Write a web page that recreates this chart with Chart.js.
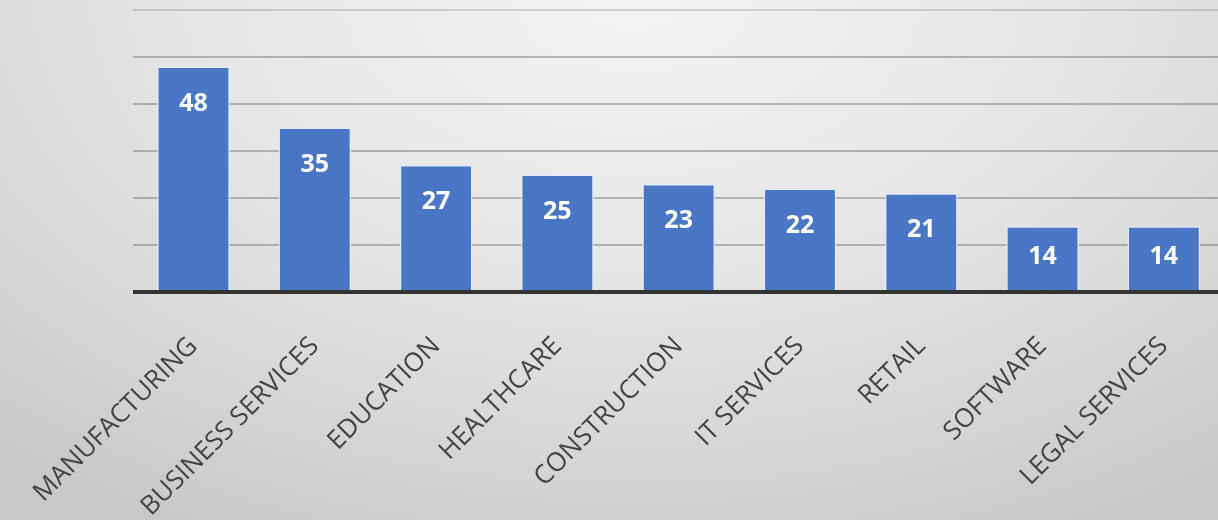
<!DOCTYPE html>
<html>
<head>
<meta charset="utf-8">
<script src="https://cdn.jsdelivr.net/npm/chart.js@4.4.1/dist/chart.umd.min.js"></script>
<style>
  html, body { margin: 0; padding: 0; overflow: hidden; }
  body {
    width: 1218px; height: 520px;
    background: radial-gradient(ellipse 80% 115% at 52% 0%, #f3f3f3 0%, #e6e6e6 45%, #d4d4d4 80%, #c8c8c8 100%);
  }
  #wrap { position: absolute; left: 0; top: 0; width: 1240px; height: 520px; }
</style>
</head>
<body>
<div id="wrap"><canvas id="chart"></canvas></div>
<script>
// Companies per industry
const categories = ['MANUFACTURING', 'BUSINESS SERVICES', 'EDUCATION', 'HEALTHCARE', 'CONSTRUCTION',
                    'IT SERVICES', 'RETAIL', 'SOFTWARE', 'LEGAL SERVICES'];
const counts = [48, 35, 27, 25, 23, 22, 21, 14, 14];
const yTicks = [0, 10, 20, 30, 40, 50, 60];

const FONT = '"Open Sans", "Liberation Sans", sans-serif';

// White value labels just inside the top of each bar
const valueLabels = {
  id: 'valueLabels',
  afterDatasetsDraw(chart) {
    const ctx = chart.ctx;
    const meta = chart.getDatasetMeta(0);
    const base = chart.scales.y.getPixelForValue(0);
    ctx.save();
    ctx.fillStyle = '#ffffff';
    ctx.font = 'bold 25px ' + FONT;
    ctx.textAlign = 'center';
    ctx.textBaseline = 'middle';
    meta.data.forEach((bar, i) => {
      const y = Math.min(bar.y + 37, base - 35);
      ctx.fillText(String(counts[i]), bar.x, y);
    });
    ctx.restore();
  }
};

function gridColor(ctx) {
  if (!ctx.tick) return 'rgba(80,80,80,0.36)';
  if (ctx.tick.value === 0) return '#333333';
  if (ctx.tick.value === 60) return 'rgba(80,80,80,0.2)';
  return 'rgba(80,80,80,0.36)';
}

new Chart(document.getElementById('chart'), {
  type: 'bar',
  data: {
    labels: categories,
    datasets: [{
      data: counts,
      backgroundColor: '#4a76c6',
      borderColor: 'rgba(225,236,255,0.95)',
      borderWidth: 1.5,
      borderSkipped: 'bottom',
      barPercentage: 0.6,
      categoryPercentage: 1.0
    }]
  },
  options: {
    responsive: true,
    maintainAspectRatio: false,
    animation: false,
    devicePixelRatio: 1,
    layout: { padding: { top: 10, right: 15.5, left: 0, bottom: 0 } },
    plugins: { legend: { display: false }, tooltip: { enabled: false } },
    scales: {
      x: {
        grid: { display: false },
        border: { display: false },
        ticks: {
          color: '#434343',
          font: { family: FONT, size: 26 },
          maxRotation: 45,
          minRotation: 45,
          padding: 31,
          autoSkip: false
        },
        afterFit(scale) { scale.height = 228; }
      },
      y: {
        min: 0,
        max: 60,
        afterBuildTicks(scale) { scale.ticks = yTicks.map(v => ({ value: v })); },
        ticks: { display: false },
        border: { display: false },
        grid: {
          drawTicks: false,
          color: gridColor,
          lineWidth: ctx => ctx.tick && ctx.tick.value === 0 ? 4 : 2
        },
        afterFit(scale) { scale.width = 129; }
      }
    }
  },
  plugins: [valueLabels]
});
</script>
</body>
</html>
